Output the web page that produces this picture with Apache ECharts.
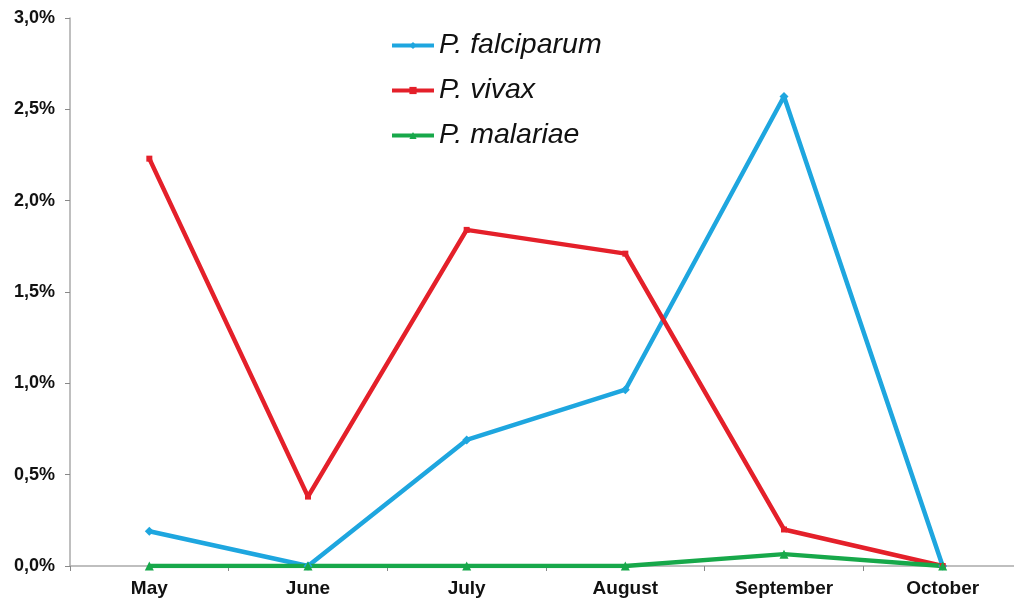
<!DOCTYPE html>
<html><head><meta charset="utf-8">
<script src="https://cdn.jsdelivr.net/npm/echarts@6/dist/echarts.min.js"></script>
<style>html,body{margin:0;padding:0;background:#fff;overflow:hidden}#c{width:1030px;height:605px}</style>
</head><body><div id="c"></div>
<script>
const months = ['May','June','July','August','September','October'];
const falciparum = [0.19, 0.0, 0.69, 0.965, 2.57, 0.0];
const vivax = [2.23, 0.38, 1.84, 1.71, 0.20, 0.0];
const malariae = [0.0, 0.0, 0.0, 0.0, 0.065, 0.0];

const chart = echarts.init(document.getElementById('c'));
const fmt = v => v.toFixed(1).replace('.', ',') + '%';
function s(name, data, color, symbol, size) {
  return {name, type:'line', data, symbol, symbolSize:size, showSymbol:true,
    lineStyle:{color, width:4.5}, itemStyle:{color}, color, z:2};
}
chart.setOption({
  animation:false,
  textStyle:{fontFamily:'Liberation Sans, Arial, sans-serif'},
  grid:{left:70, right:8, top:18, bottom:39, containLabel:false},
  legend:{orient:'vertical', left:385, top:26, itemWidth:42, itemHeight:9, itemGap:16,
    lineStyle:{width:4},
    textStyle:{fontSize:28.5, fontStyle:'italic', color:'#111', fontFamily:'Liberation Sans, Arial, sans-serif'},
    data:['P. falciparum','P. vivax','P. malariae']},
  xAxis:{type:'category', data:months, boundaryGap:true,
    axisLine:{lineStyle:{color:'#aaa', width:1.5}},
    axisTick:{show:true, length:5, lineStyle:{color:'#888'}},
    axisLabel:{fontSize:19, fontWeight:'bold', color:'#111', margin:13}},
  yAxis:{type:'value', min:0, max:3, interval:0.5,
    axisLine:{show:true, lineStyle:{color:'#aaa', width:1.5}},
    axisTick:{show:true, length:5, lineStyle:{color:'#888'}},
    splitLine:{show:false},
    axisLabel:{fontSize:18, fontWeight:'bold', color:'#111', margin:15, formatter:fmt}},
  series:[
    s('P. falciparum', falciparum, '#1ea6df', 'diamond', 9),
    s('P. vivax', vivax, '#e4202a', 'rect', 6),
    s('P. malariae', malariae, '#17a84a', 'triangle', 9)
  ]
});
</script></body></html>
